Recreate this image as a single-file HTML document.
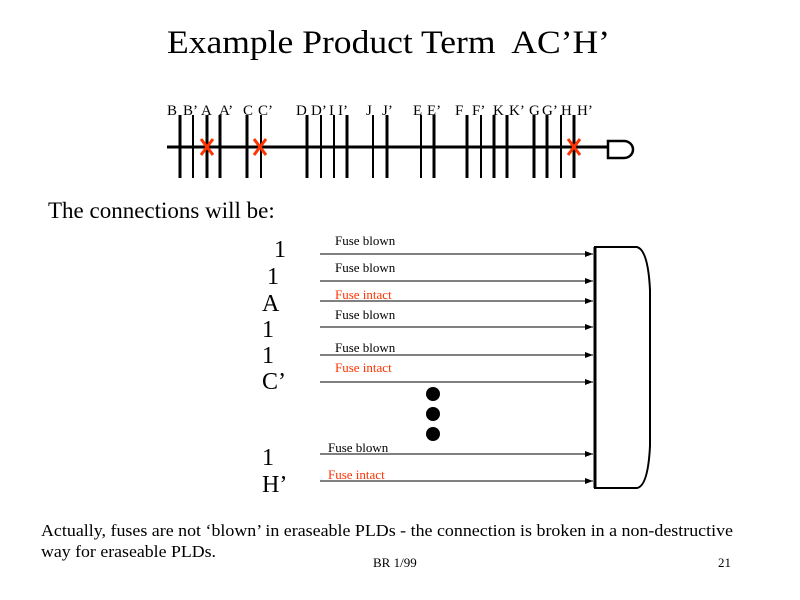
<!DOCTYPE html>
<html><head><style>html,body{margin:0;padding:0;background:#fff;}svg{display:block;}</style></head>
<body>
<svg width="800" height="600" xmlns="http://www.w3.org/2000/svg" font-family="Liberation Serif, serif">
<defs><marker id="ar" markerWidth="8" markerHeight="6" refX="8" refY="3" orient="auto" markerUnits="userSpaceOnUse"><path d="M0,0 L8,3 L0,6 Z" fill="#000"/></marker></defs>
<text x="167" y="53" font-size="33" textLength="443" lengthAdjust="spacingAndGlyphs" xml:space="preserve">Example Product Term  AC’H’</text>
<g font-size="15">
<text x="167" y="115">B</text><text x="183" y="115">B’</text><text x="201" y="115">A</text><text x="219" y="115">A’</text>
<text x="243" y="115">C</text><text x="258" y="115">C’</text><text x="296" y="115">D</text><text x="311" y="115">D’</text>
<text x="329" y="115">I</text><text x="338" y="115">I’</text><text x="366" y="115">J</text><text x="382" y="115">J’</text>
<text x="413" y="115">E</text><text x="427" y="115">E’</text><text x="455" y="115">F</text><text x="472" y="115">F’</text>
<text x="493" y="115">K</text><text x="509" y="115">K’</text><text x="529" y="115">G</text><text x="542" y="115">G’</text>
<text x="561" y="115">H</text><text x="577" y="115">H’</text>
</g>
<g stroke="#000">
<line x1="167" y1="147" x2="608" y2="147" stroke-width="3"/>
<g stroke-width="3">
<line x1="180" y1="115" x2="180" y2="178"/><line x1="207" y1="115" x2="207" y2="178"/><line x1="220" y1="115" x2="220" y2="178"/>
<line x1="247" y1="115" x2="247" y2="178"/><line x1="307" y1="115" x2="307" y2="178"/><line x1="347" y1="115" x2="347" y2="178"/>
<line x1="387" y1="115" x2="387" y2="178"/><line x1="434" y1="115" x2="434" y2="178"/><line x1="467" y1="115" x2="467" y2="178"/>
<line x1="494" y1="115" x2="494" y2="178"/><line x1="507" y1="115" x2="507" y2="178"/><line x1="534" y1="115" x2="534" y2="178"/>
<line x1="547" y1="115" x2="547" y2="178"/><line x1="574" y1="115" x2="574" y2="178"/>
</g>
<g stroke-width="2">
<line x1="193" y1="115" x2="193" y2="178"/><line x1="261" y1="115" x2="261" y2="178"/><line x1="321" y1="115" x2="321" y2="178"/>
<line x1="334" y1="115" x2="334" y2="178"/><line x1="373" y1="115" x2="373" y2="178"/><line x1="421" y1="115" x2="421" y2="178"/>
<line x1="481" y1="115" x2="481" y2="178"/><line x1="561" y1="115" x2="561" y2="178"/>
</g>
<path d="M608,141 H624 A9,8.5 0 0 1 624,158 H608 Z" fill="#fff" stroke-width="2.5"/>
</g>
<g stroke="#ff3300" stroke-width="3">
<path d="M201,139 L213,155 M213,139 L201,155"/>
<path d="M254,139 L266,155 M266,139 L254,155"/>
<path d="M568,139 L580,155 M580,139 L568,155"/>
</g>
<text x="48" y="218" font-size="23">The connections will be:</text>
<g font-size="24">
<text x="274" y="257">1</text><text x="267" y="284">1</text><text x="262" y="311">A</text>
<text x="262" y="337">1</text><text x="262" y="363">1</text><text x="262" y="389">C’</text>
<text x="262" y="465">1</text><text x="262" y="492">H’</text>
</g>
<g font-size="13">
<text x="335" y="245">Fuse blown</text><text x="335" y="272">Fuse blown</text>
<text x="335" y="299" fill="#ff3300">Fuse intact</text><text x="335" y="319">Fuse blown</text>
<text x="335" y="352">Fuse blown</text><text x="335" y="372" fill="#ff3300">Fuse intact</text>
<text x="328" y="452">Fuse blown</text><text x="328" y="479" fill="#ff3300">Fuse intact</text>
</g>
<g stroke="#000" stroke-width="1" marker-end="url(#ar)">
<line x1="320" y1="254" x2="593" y2="254"/><line x1="320" y1="281" x2="593" y2="281"/>
<line x1="320" y1="301" x2="593" y2="301"/><line x1="320" y1="327" x2="593" y2="327"/>
<line x1="320" y1="355" x2="593" y2="355"/><line x1="320" y1="382" x2="593" y2="382"/>
<line x1="320" y1="454" x2="593" y2="454"/><line x1="320" y1="481" x2="593" y2="481"/>
</g>
<path d="M595,247 H637 Q648,250 650,290 V446 Q648,486 637,488 H595 Z" fill="none" stroke="#000" stroke-width="2"/>
<line x1="595" y1="247" x2="595" y2="488" stroke="#000" stroke-width="3"/>
<circle cx="433" cy="394" r="7"/><circle cx="433" cy="414" r="7"/><circle cx="433" cy="434" r="7"/>
<text x="41" y="536" font-size="16.5" textLength="692" lengthAdjust="spacingAndGlyphs">Actually, fuses are not ‘blown’ in eraseable PLDs - the connection is broken in a non-destructive</text>
<text x="41" y="557" font-size="16.5" textLength="175" lengthAdjust="spacingAndGlyphs">way for eraseable PLDs.</text>
<text x="373" y="567" font-size="13">BR 1/99</text>
<text x="718" y="567" font-size="13">21</text>
</svg>
</body></html>
